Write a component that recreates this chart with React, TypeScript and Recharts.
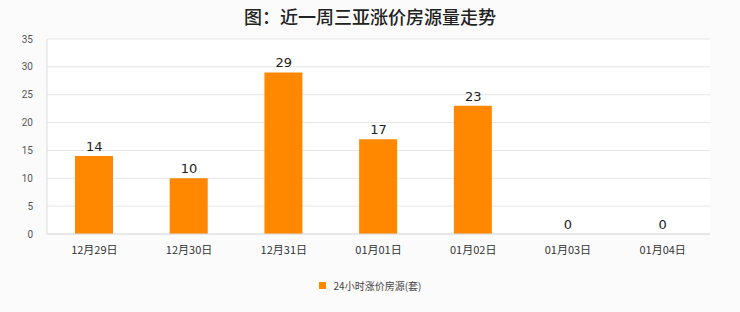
import { ComposedChart, Bar, Scatter, XAxis, YAxis, CartesianGrid } from 'recharts';

const dates = ['12月29日', '12月30日', '12月31日', '01月01日', '01月02日', '01月03日', '01月04日'];
const counts = [14, 10, 29, 17, 23, 0, 0];
const yTicks = [0, 5, 10, 15, 20, 25, 30, 35];
const seriesName = '24小时涨价房源(套)';

const data = dates.map((d, i) => ({ date: d, value: counts[i] }));

// value text above each bar (zero bars included), drawn as scatter points
const ValueText = (props: any) => {
  const { cx, cy, payload } = props;
  return (
    <text x={cx} y={cy - 5} textAnchor="middle" fontSize={13} fill="#222" fontFamily='"DejaVu Sans", sans-serif'>
      {payload.value}
    </text>
  );
};

export default function App() {
  return (
    <div style={{ position: 'absolute', left: 0, top: 0, width: 740, height: 312, background: '#fbfbfb', fontFamily: '"Noto Sans CJK SC", "DejaVu Sans", sans-serif' }}>
      <div style={{ position: 'absolute', top: 3, width: 740, textAlign: 'center', fontSize: 18, fontWeight: 500, color: '#222' }}>
        图：近一周三亚涨价房源量走势
      </div>
      <ComposedChart width={740} height={312} data={data} margin={{ top: 39, right: 30, bottom: 48, left: 0 }}>
        <CartesianGrid vertical={false} stroke="#e6e6e6" fill="#ffffff" />
        <XAxis
          dataKey="date"
          height={30}
          tickLine={false}
          axisLine={{ stroke: '#dcdcdc' }}
          tick={{ fontSize: 11, fill: '#333' }}
          tickMargin={6}
        />
        <YAxis
          width={47}
          domain={[0, 35]}
          ticks={yTicks}
          tickLine={false}
          axisLine={{ stroke: '#dcdcdc' }}
          tick={{ fontSize: 10, fill: '#555', fontFamily: 'Roboto, sans-serif' }}
          tickMargin={8}
        />
        <YAxis yAxisId="r" orientation="right" width={0} tick={false} tickLine={false} axisLine={{ stroke: '#dcdcdc' }} />
        <Bar dataKey="value" fill="#ff8800" barSize={38} isAnimationActive={false} />
        <Scatter dataKey="value" shape={ValueText} isAnimationActive={false} />
      </ComposedChart>
      <div style={{ position: 'absolute', top: 276, width: 740, textAlign: 'center', fontSize: 10, color: '#444' }}>
        <span style={{ display: 'inline-block', width: 7, height: 7, background: '#ff8800', marginRight: 8, verticalAlign: 'middle' }} />
        <span style={{ verticalAlign: 'middle' }}>{seriesName}</span>
      </div>
    </div>
  );
}
